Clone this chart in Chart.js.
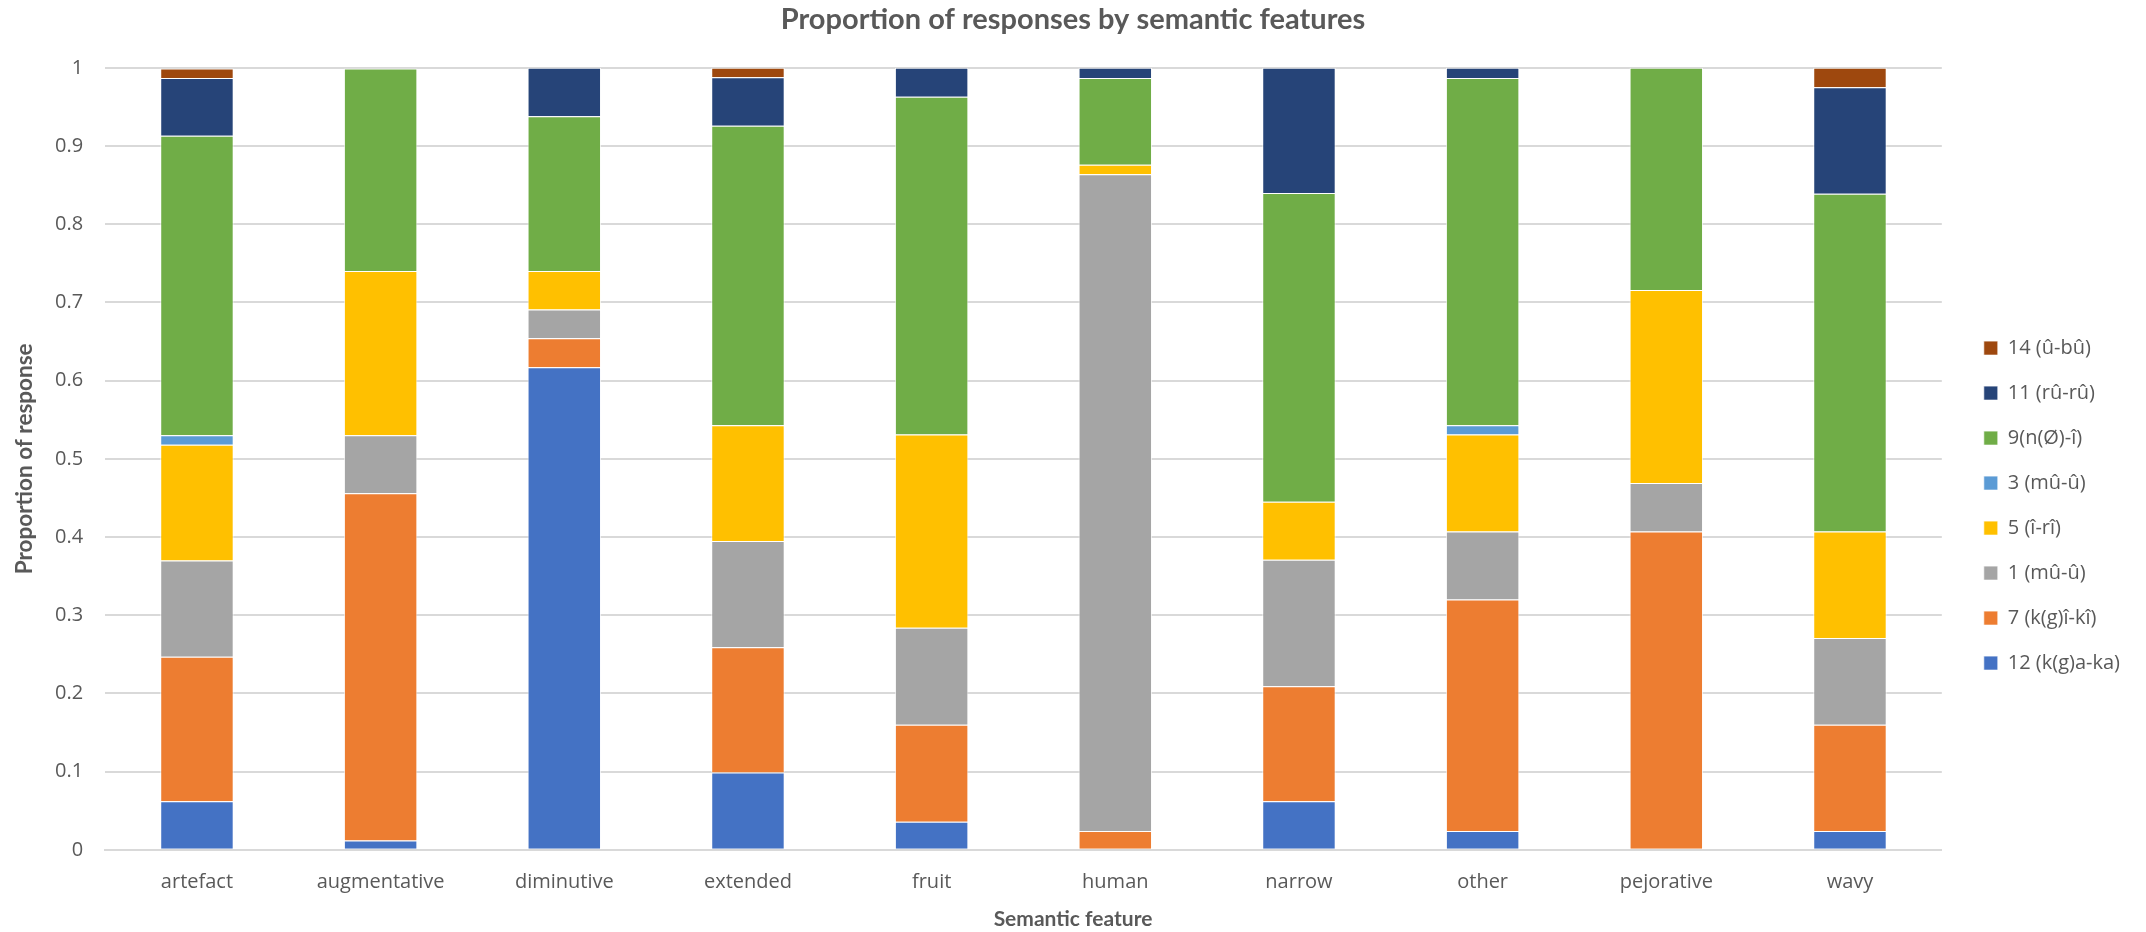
<!DOCTYPE html>
<html>
<head>
<meta charset="utf-8">
<script src="https://cdn.jsdelivr.net/npm/chart.js@4"></script>
<style>
    body { margin: 0; background: #fff; }
    #wrap { width: 2146px; height: 932px; position: relative; }
</style>
</head>
<body>
<div id="wrap"><canvas id="featureChart"></canvas></div>
<script>
const categories = ['artefact', 'augmentative', 'diminutive', 'extended', 'fruit', 'human', 'narrow', 'other', 'pejorative', 'wavy'];

// proportions per noun class, bottom of the stack first
const class12 = [0.062, 0.012, 0.617, 0.099, 0.036, 0, 0.062, 0.024, 0, 0.024];
const class7 = [0.185, 0.444, 0.037, 0.160, 0.124, 0.024, 0.147, 0.296, 0.407, 0.136];
const class1 = [0.123, 0.074, 0.037, 0.136, 0.124, 0.840, 0.162, 0.087, 0.062, 0.111];
const class5 = [0.148, 0.210, 0.049, 0.148, 0.247, 0.012, 0.074, 0.124, 0.247, 0.136];
const class3 = [0.012, 0, 0, 0, 0, 0, 0, 0.012, 0, 0];
const class9 = [0.383, 0.259, 0.198, 0.383, 0.432, 0.111, 0.395, 0.444, 0.284, 0.432];
const class11 = [0.074, 0, 0.062, 0.062, 0.037, 0.013, 0.160, 0.013, 0, 0.136];
const class14 = [0.012, 0, 0, 0.012, 0, 0, 0, 0, 0, 0.025];

const seriesNames = ['12 (k(g)a-ka)', '7 (k(g)î-kî)', '1 (mû-û)', '5 (î-rî)', '3 (mû-û)', '9(n(Ø)-î)', '11 (rû-rû)', '14 (û-bû)'];
const seriesData = [class12, class7, class1, class5, class3, class9, class11, class14];
const seriesColors = ['#4472C4', '#ED7D31', '#A5A5A5', '#FFC000', '#5B9BD5', '#70AD47', '#264478', '#9E480E'];

const yTicks = [0, 0.1, 0.2, 0.3, 0.4, 0.5, 0.6, 0.7, 0.8, 0.9, 1];

const textColor = '#595959';
const titleFont = "Lato, 'Open Sans', sans-serif";
const plainFont = "'Open Sans', 'Noto Sans', sans-serif";

const datasets = seriesNames.map((name, i) => ({
    label: name,
    data: seriesData[i],
    backgroundColor: seriesColors[i],
    borderColor: 'rgba(255, 255, 255, 0.7)',
    borderWidth: 1,
    barPercentage: 0.4,
    categoryPercentage: 1
}));

const ctx = document.getElementById('featureChart');
const featureChart = new Chart(ctx, {
    type: 'bar',
    data: {
        labels: categories,
        datasets: datasets
    },
    options: {
        responsive: true,
        maintainAspectRatio: false,
        animation: false,
        layout: {
            padding: { left: 16, right: 16, top: 0, bottom: 0 }
        },
        plugins: {
            title: {
                display: true,
                text: 'Proportion of responses by semantic features',
                color: textColor,
                font: { family: titleFont, size: 29, weight: 'bold' },
                padding: { top: 2, bottom: 31 }
            },
            subtitle: {
                display: true,
                position: 'bottom',
                text: 'Semantic feature',
                color: textColor,
                font: { family: titleFont, size: 21, weight: 'bold' },
                padding: { top: -7, bottom: 0 }
            },
            legend: {
                position: 'right',
                reverse: true,
                title: {
                    display: true,
                    text: '',
                    font: { size: 16 },
                    padding: { top: 60, bottom: 0 }
                },
                labels: {
                    boxWidth: 14,
                    boxHeight: 14,
                    padding: 25,
                    color: textColor,
                    font: { family: plainFont, size: 20 }
                }
            },
            tooltip: { enabled: false }
        },
        scales: {
            x: {
                stacked: true,
                grid: { display: false, drawTicks: false },
                border: { color: '#d9d9d9', width: 2 },
                ticks: {
                    color: textColor,
                    padding: 20,
                    font: { family: plainFont, size: 20 }
                }
            },
            y: {
                stacked: true,
                min: 0,
                max: 1,
                afterBuildTicks: axis => {
                    axis.ticks = yTicks.map(v => ({ value: v }));
                },
                grid: { color: '#d9d9d9', lineWidth: 2, drawTicks: false },
                border: { display: false },
                ticks: {
                    color: textColor,
                    padding: 22,
                    font: { family: plainFont, size: 20 },
                    callback: value => String(Math.round(value * 10) / 10)
                },
                title: {
                    display: true,
                    text: 'Proportion of response',
                    color: textColor,
                    font: { family: titleFont, size: 22.5, weight: 'bold' },
                    padding: { top: -4.5, bottom: -5.5 }
                }
            },
            // empty right axis, only keeps a gap between the plot and the legend
            gap: {
                position: 'right',
                display: true,
                grid: { display: false, drawTicks: false },
                border: { display: false },
                ticks: { display: false },
                afterFit: axis => { axis.width = 17; }
            }
        }
    }
});
</script>
</body>
</html>
